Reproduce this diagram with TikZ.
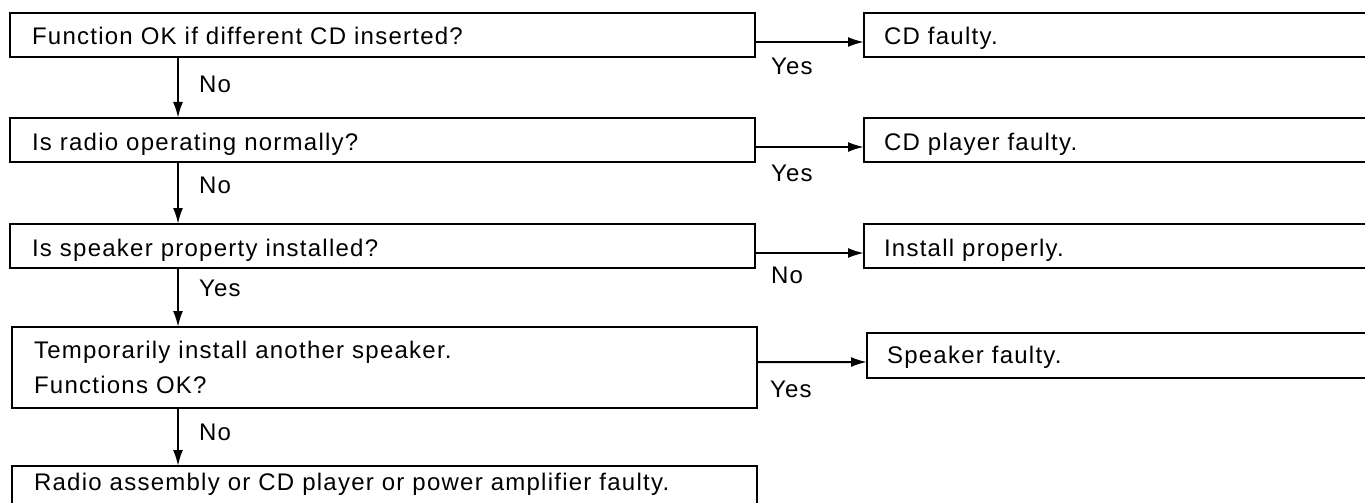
\documentclass[tikz,border=0pt]{standalone}
\usepackage{fontspec}
\setmainfont{Liberation Sans}[LetterSpace=5.2]
\usepackage{tikz}
\usetikzlibrary{arrows.meta,positioning}
\newcommand{\chartfont}{\fontsize{24bp}{35bp}\selectfont}
\tikzset{qbox/.style={draw=black,line width=1.2bp,minimum width=745bp,minimum height=44bp,text width=701bp,inner xsep=22bp,inner ysep=0pt,outer sep=0pt,align=left,font=\chartfont},
one/.style={text height=20bp,text depth=0bp},
abox/.style={qbox,minimum width=520bp,text width=480bp,inner xsep=20bp},
flow/.style={-{Latex[length=16bp,width=10bp]},line width=2bp,draw=black},
lbl/.style={anchor=north west,pos=0,inner sep=0pt,font=\chartfont,xshift=15bp,yshift=-15bp},
dlbl/.style={anchor=north west,pos=0,inner sep=0pt,font=\chartfont,xshift=20bp,yshift=-15bp}}
\begin{document}
\begin{tikzpicture}[x=1bp,y=-1bp]
\useasboundingbox (0,0) rectangle (1365,503);
\clip (0,0) rectangle (1365,503);
\fill[white] (0,0) rectangle (1365,503);
% question column
\node[qbox,one,anchor=north west] (q1) at (10,13) {Function OK if different CD inserted?};
\node[qbox,one,below=61bp of q1] (q2) {Is radio operating normally?};
\node[qbox,one,below=62bp of q2] (q3) {Is speaker property installed?};
\node[qbox,minimum height=81bp,below=59bp of q3,xshift=2bp] (q4) {Temporarily install another speaker.\\Functions OK?};
\node[qbox,text height=20bp,text depth=16bp,below=58bp of q4] (q5) {Radio assembly or CD player or power amplifier faulty.};
% answer column
\node[abox,one,right=109bp of q1] (a1) {CD faulty.};
\node[abox,one,right=109bp of q2] (a2) {CD player faulty.};
\node[abox,one,right=109bp of q3] (a3) {Install properly.};
\node[abox,text height=20bp,text depth=5bp,minimum height=45bp,minimum width=516bp,right=110bp of q4,yshift=12bp] (a4) {Speaker faulty.};
\draw[flow] ([xshift=168bp]q1.south west)--node[dlbl,yshift=-3bp]{No}([xshift=168bp]q2.north west);
\draw[flow] ([xshift=168bp]q2.south west)--node[dlbl,yshift=1bp]{No}([xshift=168bp]q3.north west);
\draw[flow] ([xshift=168bp]q3.south west)--node[dlbl,yshift=4bp]{Yes}([xshift=166bp]q4.north west);
\draw[flow] ([xshift=166bp]q4.south west)--node[dlbl]{No}([xshift=166bp]q5.north west);
\draw[flow] ([yshift=-7bp]q1.east)--node[lbl]{Yes}([yshift=-7bp]a1.west);
\draw[flow] ([yshift=-7bp]q2.east)--node[lbl,yshift=-1.5bp]{Yes}([yshift=-7bp]a2.west);
\draw[flow] ([yshift=-7bp]q3.east)--node[lbl,yshift=2bp]{No}([yshift=-7bp]a3.west);
\draw[flow] ([yshift=5.5bp]q4.east)--node[lbl,xshift=-3bp,yshift=-3bp]{Yes}([yshift=-6.5bp]a4.west);
\end{tikzpicture}
\end{document}
